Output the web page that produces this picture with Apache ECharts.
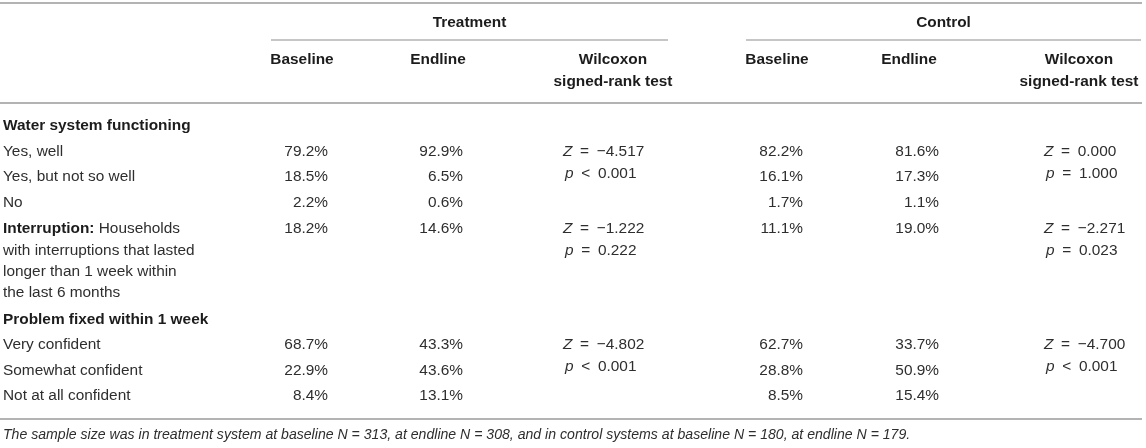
<!DOCTYPE html>
<html>
<head>
<meta charset="utf-8">
<script src="https://cdn.jsdelivr.net/npm/echarts@6/dist/echarts.min.js"></script>
<style>
    html, body { margin: 0; padding: 0; background: #ffffff; }
    #table-chart { width: 1146px; height: 448px; }
</style>
</head>
<body>
<div id="table-chart"></div>
<script>
// Table content
const groupNames = ['Treatment', 'Control'];
const columnNames = ['Baseline', 'Endline', 'Wilcoxon\nsigned-rank test'];
const rowLabels = [
    'Water system functioning',
    'Yes, well',
    'Yes, but not so well',
    'No',
    'Interruption:|Households\nwith interruptions that lasted\nlonger than 1 week within\nthe last 6 months',
    'Problem fixed within 1 week',
    'Very confident',
    'Somewhat confident',
    'Not at all confident'
];
const sectionRows = [0, 5];
const treatmentBaseline = [null, 79.2, 18.5, 2.2, 18.2, null, 68.7, 22.9, 8.4];
const treatmentEndline = [null, 92.9, 6.5, 0.6, 14.6, null, 43.3, 43.6, 13.1];
const controlBaseline = [null, 82.2, 16.1, 1.7, 11.1, null, 62.7, 28.8, 8.5];
const controlEndline = [null, 81.6, 17.3, 1.1, 19.0, null, 33.7, 50.9, 15.4];
const testRows = [1, 4, 6];
const treatmentZ = [-4.517, -1.222, -4.802];
const treatmentP = ['<', 0.001, '=', 0.222, '<', 0.001];
const controlZ = [0.000, -2.271, -4.700];
const controlP = ['=', 1.000, '=', 0.023, '<', 0.001];
const footnote = 'The sample size was in treatment system at baseline N = 313, at endline N = 308, and in control systems at baseline N = 180, at endline N = 179.';

document.addEventListener('DOMContentLoaded', function() {
    const chart = echarts.init(document.getElementById('table-chart'));

    // Layout (axis units = pixels of the page)
    const rowY = [126, 152, 177, 203, 229, 320, 345, 371, 396];
    const wrapStep = 21.3;
    const pStep = 22;
    const labelX = 3;
    const groups = [
        { from: 271, to: 668, baseRight: 328, baseHead: 302, endRight: 463, endHead: 438, testLeft: 563, testHead: 613 },
        { from: 746, to: 1141, baseRight: 803, baseHead: 777, endRight: 939, endHead: 909, testLeft: 1044, testHead: 1079 }
    ];
    const font = '"Liberation Sans", Arial, Helvetica, sans-serif';
    const bodySize = 15.4;
    const textColor = '#2e2e2e';
    const headColor = '#1c1c1c';
    const gap = '\u2002';

    const cells = [];
    const rules = [];

    // Horizontal rules
    rules.push({ x1: 0, x2: 1142, y: 3, w: 2 });
    rules.push({ x1: 0, x2: 1142, y: 103, w: 2 });
    rules.push({ x1: 0, x2: 1142, y: 419, w: 2 });

    function pct(v) {
        return v == null ? '' : v.toFixed(1) + '%';
    }
    function zText(z) {
        return '{i|Z}' + gap + '=' + gap + z.toFixed(3).replace('-', '\u2212');
    }
    function pText(sign, p) {
        return '{i|p}' + gap + sign + gap + p.toFixed(3);
    }

    const colSets = [
        [treatmentBaseline, treatmentEndline, treatmentZ, treatmentP],
        [controlBaseline, controlEndline, controlZ, controlP]
    ];

    groups.forEach(function(g, gi) {
        rules.push({ x1: g.from, x2: g.to, y: 40, w: 1.5 });
        cells.push({ x: (g.from + g.to) / 2, y: 23, text: groupNames[gi], align: 'center', bold: true });
        cells.push({ x: g.baseHead, y: 60, text: columnNames[0], align: 'center', bold: true });
        cells.push({ x: g.endHead, y: 60, text: columnNames[1], align: 'center', bold: true });
        columnNames[2].split('\n').forEach(function(line, li) {
            cells.push({ x: g.testHead, y: 60 + li * 22, text: line, align: 'center', bold: true });
        });

        const set = colSets[gi];
        rowY.forEach(function(y, ri) {
            if (set[0][ri] != null) cells.push({ x: g.baseRight, y: y, text: pct(set[0][ri]), align: 'right' });
            if (set[1][ri] != null) cells.push({ x: g.endRight, y: y, text: pct(set[1][ri]), align: 'right' });
        });
        testRows.forEach(function(ri, ti) {
            cells.push({ x: g.testLeft, y: rowY[ri], text: zText(set[2][ti]), align: 'left' });
            cells.push({ x: g.testLeft + 2, y: rowY[ri] + pStep, text: pText(set[3][ti * 2], set[3][ti * 2 + 1]), align: 'left' });
        });
    });

    // Row labels
    rowLabels.forEach(function(label, ri) {
        const lines = label.split('\n');
        lines.forEach(function(line, li) {
            let text = line;
            if (line.indexOf('|') >= 0) {
                const parts = line.split('|');
                text = '{b|' + parts[0] + '} ' + parts[1];
            }
            cells.push({
                x: labelX,
                y: rowY[ri] + li * wrapStep,
                text: text,
                align: 'left',
                bold: sectionRows.indexOf(ri) >= 0
            });
        });
    });

    cells.push({ x: labelX, y: 435, text: footnote, align: 'left', italic: true, size: 14.1 });

    const option = {
        animation: false,
        grid: { left: 0, right: 0, top: 0, bottom: 0 },
        xAxis: { type: 'value', min: 0, max: 1146, show: false },
        yAxis: { type: 'value', min: 0, max: 448, inverse: true, show: false },
        series: [
            {
                type: 'custom',
                data: rules.map(r => [r.x1, r.y, r.x2, r.w]),
                renderItem: function(params, api) {
                    const a = api.coord([api.value(0), api.value(1)]);
                    const b = api.coord([api.value(2), api.value(1)]);
                    return {
                        type: 'line',
                        shape: { x1: a[0], y1: a[1], x2: b[0], y2: b[1] },
                        style: { stroke: '#b3b3b3', lineWidth: api.value(3) }
                    };
                }
            },
            {
                type: 'custom',
                data: cells.map(c => [c.x, c.y]),
                renderItem: function(params, api) {
                    const c = cells[params.dataIndex];
                    const p = api.coord([api.value(0), api.value(1)]);
                    const size = c.size || bodySize;
                    return {
                        type: 'text',
                        x: p[0],
                        y: p[1],
                        style: {
                            text: c.text,
                            fill: c.bold ? headColor : textColor,
                            font: (c.italic ? 'italic ' : '') + (c.bold ? 'bold ' : '') + size + 'px ' + font,
                            align: c.align,
                            verticalAlign: 'middle',
                            rich: {
                                b: { fontWeight: 'bold', fontSize: size, fontFamily: font, fill: headColor },
                                i: { fontStyle: 'italic', fontSize: size, fontFamily: font, fill: textColor }
                            }
                        }
                    };
                }
            }
        ]
    };

    chart.setOption(option);
});
</script>
</body>
</html>
